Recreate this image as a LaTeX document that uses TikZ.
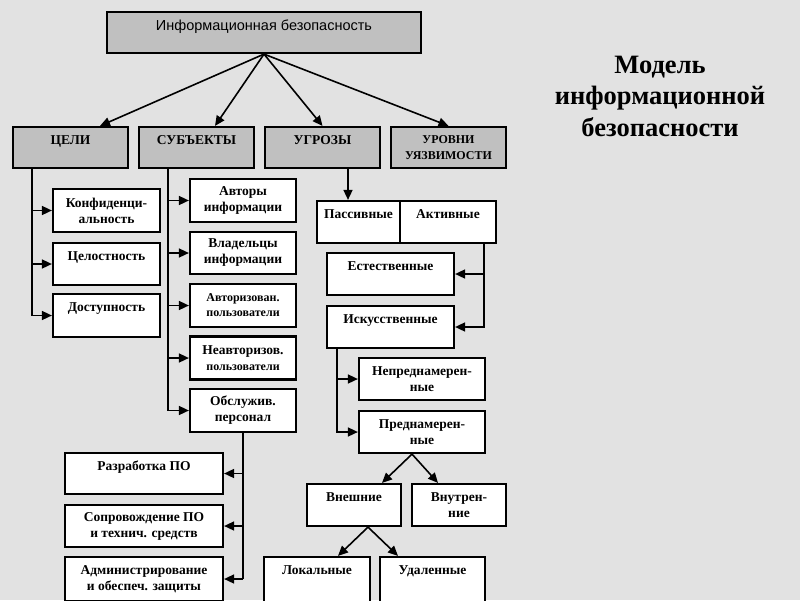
\documentclass[tikz,border=0pt]{standalone}
\usepackage{fontspec}
\setmainfont{Liberation Serif}
\newfontfamily\headfont{Liberation Sans}
\usetikzlibrary{arrows.meta}
\definecolor{paper}{RGB}{226,226,226}
\definecolor{boxgray}{RGB}{192,192,192}
\tikzset{
  box/.style={draw, line width=2.2pt, fill=white, inner xsep=2pt, inner ysep=3pt,
    align=center, font=\bfseries\fontsize{13.5}{16}\selectfont},
  headbox/.style={box, fill=boxgray},
  toptext/.style={text height=14pt, text depth=#1},
  arr/.style={line width=1.6pt, -{Triangle[length=10pt,width=9pt]}},
  trunk/.style={line width=1.6pt}
}
\begin{document}
\begin{tikzpicture}[x=1pt,y=-1pt]
  \fill[paper] (0,0) rectangle (800,600);
  \useasboundingbox (0,0) rectangle (800,600);
  \clip (0,0) rectangle (800,600);

  % top and the four groups
  \node[headbox, minimum width=314pt, text height=15pt, text depth=20pt,
        font=\headfont\fontsize{14.5}{16}\selectfont] (top) at (264,32.5) {Информационная безопасность};
  \node[headbox, minimum width=115pt, toptext=21pt] (celi) at (70.5,147.5) {ЦЕЛИ};
  \node[headbox, minimum width=115pt, toptext=21pt] (subj) at (196.5,147.5) {СУБЪЕКТЫ};
  \node[headbox, minimum width=115pt, toptext=21pt] (ugr) at (322.5,147.5) {УГРОЗЫ};
  \node[headbox, minimum width=115pt, minimum height=41pt,
        font=\bfseries\fontsize{12}{16}\selectfont] (urov) at (448.5,147.5) {УРОВНИ\\УЯЗВИМОСТИ};

  \draw[arr] (top.south) -- ([xshift=29.5pt]celi.north);
  \draw[arr] (top.south) -- ([xshift=18.5pt]subj.north);
  \draw[arr] (top.south) -- (ugr.north);
  \draw[arr] (top.south) -- (urov.north);

  % goals
  \node[box, minimum width=107pt, minimum height=43pt] (konf) at (106.5,210.5) {Конфиденци-\\альность};
  \node[box, minimum width=107pt, toptext=22pt] (cel) at (106.5,264) {Целостность};
  \node[box, minimum width=107pt, toptext=23pt] (dost) at (106.5,315.5) {Доступность};
  \coordinate (cl) at ([xshift=20pt]celi.south west);
  \draw[arr] (cl) |- (dost.west);
  \draw[arr] (cl |- konf.west) -- (konf.west);
  \draw[arr] (cl |- cel.west) -- (cel.west);

  % subjects
  \node[box, minimum width=106pt, minimum height=43pt] (avt) at (243,200.5) {Авторы\\информации};
  \node[box, minimum width=106pt, minimum height=42pt] (vlad) at (243,253) {Владельцы\\информации};
  \node[box, minimum width=106pt, minimum height=43pt,
        font=\bfseries\fontsize{12}{15}\selectfont] (avtp) at (243,305.5) {Авторизован.\\пользователи};
  \node[box, minimum width=106pt, minimum height=43pt] (neavt) at (243,358)
        {Неавторизов.\\{\fontsize{12}{15}\selectfont пользователи}};
  \node[box, minimum width=106pt, minimum height=43pt] (obsl) at (243,410.5) {Обслужив.\\персонал};
  \coordinate (sl) at ([xshift=30pt]subj.south west);
  \draw[arr] (sl) |- (obsl.west);
  \foreach \n in {avt,vlad,avtp,neavt}
    \draw[arr] (sl |- \n.west) -- (\n.west);

  % service staff
  \node[box, minimum width=158pt, toptext=21pt] (razr) at (144,473.5) {Разработка ПО};
  \node[box, minimum width=158pt, minimum height=42pt] (sopr) at (144,526) {Сопровождение ПО\\и технич. средств};
  \node[box, minimum width=158pt, minimum height=44pt] (adm) at (144,579) {Администрирование\\и обеспеч. защиты};
  \draw[trunk] (obsl.south) -- (obsl.south |- adm.east);
  \foreach \n in {razr,sopr,adm}
    \draw[arr] (obsl.south |- \n.east) -- (\n.east);

  % threats
  \node[box, minimum width=83pt, toptext=22pt] (pas) at (358.5,222) {Пассивные};
  \node[box, minimum width=96pt, toptext=22pt] (akt) at (448,222) {Активные};
  \draw[arr] ([xshift=25.5pt]ugr.south) -- ([xshift=25.5pt]ugr.south |- pas.north);

  \node[box, minimum width=127pt, toptext=22pt] (est) at (390.5,274) {Естественные};
  \node[box, minimum width=127pt, toptext=22pt] (isk) at (390.5,327) {Искусственные};
  \coordinate (al) at ([xshift=-13pt]akt.south east);
  \draw[arr] (al) |- (isk.east);
  \draw[arr] (al |- est.east) -- (est.east);

  \node[box, minimum width=126pt, minimum height=42pt] (nepr) at (422,379) {Непреднамерен-\\ные};
  \node[box, minimum width=126pt, minimum height=42pt] (predn) at (422,432) {Преднамерен-\\ные};
  \coordinate (il) at ([xshift=11pt]isk.south west);
  \draw[arr] (il) |- (predn.west);
  \draw[arr] (il |- nepr.west) -- (nepr.west);

  \node[box, minimum width=94pt, toptext=22pt] (vnesh) at (354,505) {Внешние};
  \node[box, minimum width=94pt, minimum height=42pt] (vnutr) at (459,505) {Внутрен-\\ние};
  \draw[arr] ([xshift=-10pt]predn.south) -- ([xshift=28pt]vnesh.north);
  \draw[arr] ([xshift=-10pt]predn.south) -- ([xshift=-21pt]vnutr.north);

  \node[box, minimum width=106pt, toptext=26pt] (lok) at (317,580) {Локальные};
  \node[box, minimum width=105pt, toptext=26pt] (udal) at (432.5,580) {Удаленные};
  \draw[arr] ([xshift=14pt]vnesh.south) -- ([xshift=21pt]lok.north);
  \draw[arr] ([xshift=14pt]vnesh.south) -- ([xshift=-34.5pt]udal.north);

  % title
  \node[align=center, font=\bfseries\fontsize{26.5}{31.5}\selectfont] (title) at (660,96)
    {Модель\\информационной\\безопасности};
\end{tikzpicture}
\end{document}
